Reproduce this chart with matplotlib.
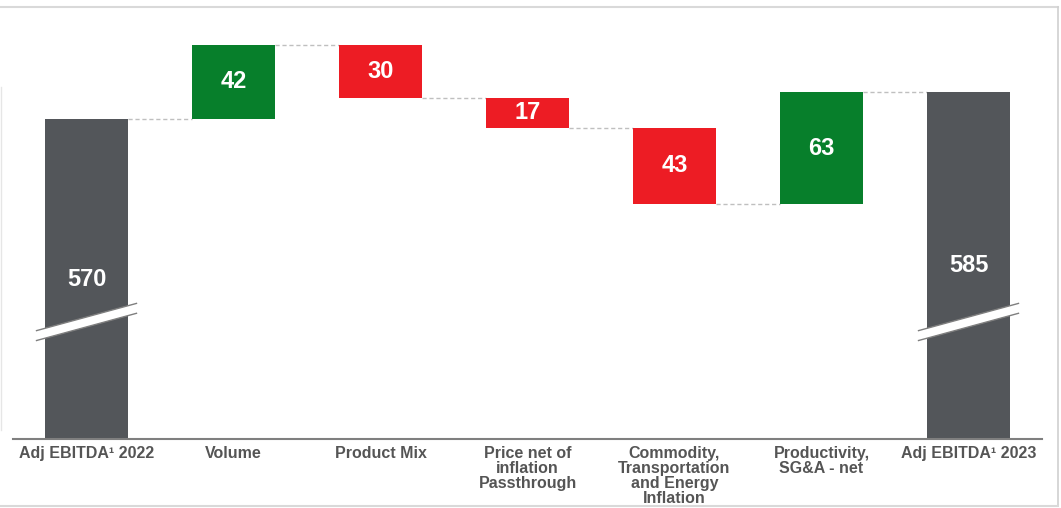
import matplotlib
matplotlib.use("Agg")
import matplotlib.pyplot as plt
from matplotlib.patches import Polygon
from matplotlib.lines import Line2D

categories = ["Adj EBITDA\u00b9 2022", "Volume", "Product Mix",
              "Price net of\ninflation\nPassthrough",
              "Commodity,\nTransportation\nand Energy\nInflation",
              "Productivity,\nSG&A - net", "Adj EBITDA\u00b9 2023"]
start_value = 570
deltas = [42, -30, -17, -43, 63]
end_value = 585
labels = ["570", "42", "30", "17", "43", "63", "585"]

GREEN = "#077F2B"
RED = "#ED1C24"
GRAY = "#53565A"
TXT = "#555555"
VFS = 17

fig = plt.figure(figsize=(10.61, 5.08), dpi=100)
ax = fig.add_axes([13/1061, 69/508, (1042-13)/1061, (439-20)/508])
ymin, ymax = 389, 626
ax.set_xlim(-0.5, 6.5)
ax.set_ylim(ymin, ymax)
w = 0.56

# totals
ax.bar(0, start_value - ymin, bottom=ymin, width=w, color=GRAY, zorder=2)
ax.bar(6, end_value - ymin, bottom=ymin, width=w, color=GRAY, zorder=2)

level = start_value
conns = []
for i, d in enumerate(deltas, start=1):
    lo, hi = (level, level + d) if d > 0 else (level + d, level)
    ax.bar(i, hi - lo, bottom=lo, width=w, color=GREEN if d > 0 else RED, zorder=2)
    ax.text(i, (lo + hi) / 2, labels[i], ha="center", va="center", color="white",
            fontsize=VFS, fontweight="bold", family="Liberation Sans", zorder=3)
    conns.append((i - 1, i, level))
    level += d
conns.append((5, 6, level))

for a, b, y in conns:
    ax.plot([a + w/2, b - w/2], [y, y], color="#BFBFBF", lw=1, dashes=(3, 2), zorder=1)

ax.text(0, 479, labels[0], ha="center", va="center", color="white",
        fontsize=VFS, fontweight="bold", family="Liberation Sans", zorder=3)
ax.text(6, 487, labels[6], ha="center", va="center", color="white",
        fontsize=VFS, fontweight="bold", family="Liberation Sans", zorder=3)

# break marks
for xc in (0, 6):
    hw = 0.34
    yc = 455.2
    s = 7.7
    h = 2.8
    poly = Polygon([[xc - hw, yc - s - h], [xc + hw, yc + s - h],
                    [xc + hw, yc + s + h], [xc - hw, yc - s + h]],
                   closed=True, facecolor="white", edgecolor="none", zorder=4, clip_on=False)
    ax.add_patch(poly)
    for sign in (-1, 1):
        ax.plot([xc - hw, xc + hw], [yc - s + sign*h, yc + s + sign*h],
                color="#7F7F7F", lw=1, zorder=5, clip_on=False)

for sp in ["top", "right", "left"]:
    ax.spines[sp].set_visible(False)
ax.spines["bottom"].set_color("#7F7F7F")
ax.spines["bottom"].set_linewidth(1.5)
ax.set_yticks([])
ax.set_xticks(range(7))
ax.set_xticklabels(categories, fontsize=11.5, fontweight="bold", color=TXT,
                   family="Liberation Sans", linespacing=1.0)
ax.tick_params(axis="x", length=0, pad=5)

# frame
fig.add_artist(Line2D([0, 1058/1061], [1 - 7/508, 1 - 7/508], color="#D9D9D9", lw=1.5))
fig.add_artist(Line2D([1058/1061, 1058/1061], [1 - 7/508, 2/508], color="#D0D0D0", lw=1.2))
fig.add_artist(Line2D([0, 1058/1061], [2/508, 2/508], color="#D9D9D9", lw=1.5))
fig.add_artist(Line2D([1/1061, 1/1061], [1 - 87/508, 1 - 430/508], color="#E6E6E6", lw=1))

fig.savefig("out.png", dpi=100)
